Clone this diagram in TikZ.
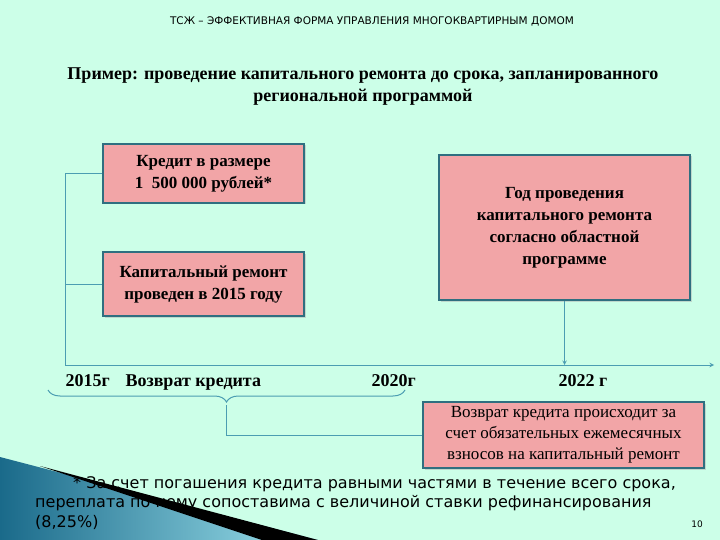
\documentclass[tikz,border=0pt]{standalone}
\usepackage{fontspec}
\setmainfont{Liberation Serif}
\setsansfont{DejaVu Sans}
\usetikzlibrary{calc}
\usetikzlibrary{shadows}
\usetikzlibrary{decorations.pathreplacing}
\definecolor{bgmint}{HTML}{CCFFE8}
\definecolor{boxpink}{HTML}{F2A5A7}
\definecolor{boxrim}{HTML}{2F6F80}
\definecolor{linkteal}{HTML}{4B9DB2}
\definecolor{wedgedark}{HTML}{1A6A8A}
\definecolor{wedgelight}{HTML}{9FE3EE}
\tikzset{
  pinkbox/.style={draw=boxrim, line width=2.2pt, fill=boxpink, align=center,
    font=\bfseries\fontsize{17}{22}\selectfont, inner sep=0pt,
    drop shadow={shadow xshift=1.5pt, shadow yshift=-1.5pt, fill=gray!60}},
  link/.style={draw=linkteal, line width=1pt},
  yearlbl/.style={font=\bfseries\fontsize{18}{20}\selectfont, anchor=base west}
}
\begin{document}
\begin{tikzpicture}[x=1pt, y=-1pt]
  \useasboundingbox (0,0) rectangle (720,540);
  \fill[bgmint] (0,0) rectangle (720,540);
  % corner wedge
  \shade[left color=wedgedark, right color=wedgelight] (0,457) -- (318,540) -- (0,540) -- cycle;
  \fill[black] (40,466) -- (318,540) -- (262,540) -- cycle;
  % titles
  \node (title) at (372,21) {\sffamily\fontsize{10.5}{12}\selectfont ТСЖ – ЭФФЕКТИВНАЯ ФОРМА УПРАВЛЕНИЯ МНОГОКВАРТИРНЫМ ДОМОМ};
  \node[align=center, font=\bfseries\fontsize{18}{22}\selectfont] (example) at (363,87)
    {Пример: проведение капитального ремонта до срока, запланированного\\региональной программой};
  % boxes
  \node[pinkbox, minimum width=201pt, minimum height=59pt] (credit) at (203.5,173.5) {Кредит в размере\\1\ \ 500 000 рублей*};
  \node[pinkbox, minimum width=201pt, minimum height=64pt] (repair) at (203.5,284) {Капитальный ремонт\\проведен в 2015 году};
  \node[pinkbox, minimum width=251pt, minimum height=145pt] (plan) at (564.5,227.5) {Год проведения\\капитального ремонта\\согласно областной\\программе};
  \node[pinkbox, font=\fontsize{17}{21}\selectfont, minimum width=281pt, minimum height=66pt] (refund) at (563.5,435) {Возврат кредита происходит за\\счет обязательных ежемесячных\\взносов на капитальный ремонт};
  % timeline
  \coordinate (start) at (65,365);
  \coordinate (finish) at (714,365);
  \draw[link, -stealth] (start) -- (finish);
  \draw[link] (credit.west) -| (start);
  \draw[link] (repair.west) -- (repair.west -| start);
  \draw[link, -stealth] (plan.south) -- (plan.south |- start);
  \node[yearlbl] (y2015) at (62,386) {2015г};
  \node[yearlbl] (back) at (122,386) {Возврат кредита};
  \node[yearlbl] (y2020) at (368,386) {2020г};
  \node[yearlbl] (y2022) at (555,386) {2022 г};
  % brace
  \coordinate (bl) at (48,390);
  \coordinate (br) at (405,390);
  \draw[link, decorate, decoration={brace, amplitude=12pt, mirror, aspect=0.5}] (bl) -- (br);
  \coordinate (tip) at (226.5,405);
  \draw[link] (tip) -- (tip |- refund.west) -- (refund.west);
  % footnote
  \node[anchor=north west, align=left, inner sep=0pt, font=\sffamily\fontsize{16}{19.5}\selectfont] (note) at (35,476)
    {\hspace*{38pt}* За счет погашения кредита равными частями в течение всего срока,\\переплата по нему сопоставима с величиной ставки рефинансирования\\(8,25\%)};
  \node[font=\sffamily\fontsize{9}{10}\selectfont] (page) at (697,524) {10};
\end{tikzpicture}
\end{document}
